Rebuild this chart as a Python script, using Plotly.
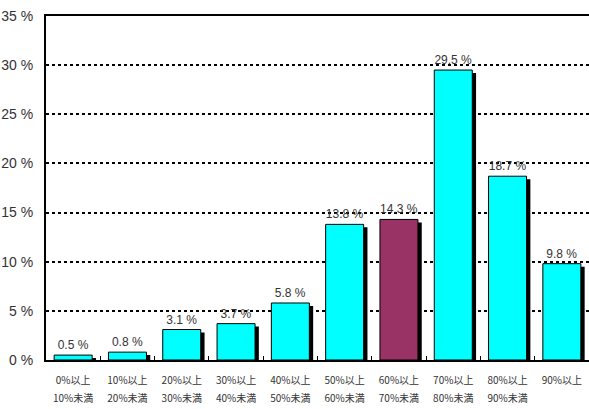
import plotly.graph_objects as go

categories = ["0%以上\n10%未満", "10%以上\n20%未満", "20%以上\n30%未満", "30%以上\n40%未満",
              "40%以上\n50%未満", "50%以上\n60%未満", "60%以上\n70%未満", "70%以上\n80%未満",
              "80%以上\n90%未満", "90%以上"]
values = [0.5, 0.8, 3.1, 3.7, 5.8, 13.8, 14.3, 29.5, 18.7, 9.8]
highlight = "60%以上\n70%未満"
y_ticks = [0, 5, 10, 15, 20, 25, 30, 35]

bar_colors = ["#993366" if c == highlight else "#00FFFF" for c in categories]
labels = [f"{v} %" for v in values]
first_line = [c.split("\n")[0] for c in categories]
second_line = [c.split("\n")[1] if "\n" in c else "" for c in categories]

num_font = "Liberation Sans Narrow, Arial Narrow, Liberation Sans, Arial"
cjk_font = "Noto Sans CJK JP"

fig = go.Figure()
# drop shadow behind each bar
fig.add_trace(go.Bar(
    x=categories, y=[v - 0.3 for v in values], width=0.7, offset=-0.28,
    marker=dict(color="black", line=dict(width=0)), hoverinfo="skip", showlegend=False,
))
fig.add_trace(go.Bar(
    x=categories, y=values, width=0.7, offset=-0.35,
    marker=dict(color=bar_colors, line=dict(color="black", width=1)),
    text=labels, textposition="outside", cliponaxis=False,
    textfont=dict(family=num_font, size=12, color="#333333"),
    showlegend=False,
))
# invisible trace carrying the second row of category labels
fig.add_trace(go.Scatter(
    x=categories, y=[0] * len(categories), xaxis="x2", mode="markers",
    marker=dict(opacity=0), hoverinfo="skip", showlegend=False,
))

fig.update_layout(
    width=589, height=409, barmode="overlay",
    margin=dict(l=46, r=0, t=16, b=49),
    plot_bgcolor="white", paper_bgcolor="white",
    font=dict(family=num_font, color="#333333"),
    xaxis=dict(
        type="category", showline=True, linecolor="black", linewidth=2, mirror=True,
        ticks="inside", tickson="boundaries", ticklen=4, tickcolor="black", tickwidth=1,
        showgrid=False, tickvals=categories, ticktext=first_line, ticklabelstandoff=10,
        tickfont=dict(family=cjk_font, size=10, color="#333333"),
        range=[-0.5, 9.5],
    ),
    xaxis2=dict(
        type="category", overlaying="x", side="bottom", matches="x",
        showline=False, ticks="", showgrid=False,
        tickvals=categories, ticktext=second_line, ticklabelstandoff=31,
        tickfont=dict(family=cjk_font, size=10, color="#333333"),
    ),
    yaxis=dict(
        range=[0, 35], tickvals=y_ticks, ticktext=[f"{t} %" for t in y_ticks],
        showline=True, linecolor="black", linewidth=2,
        showgrid=True, gridcolor="black", griddash="dot", gridwidth=2,
        zeroline=False, ticks="", ticklabelstandoff=8,
        tickfont=dict(family=num_font, size=14, color="#333333"),
    ),
)

fig.write_html("out.html")
